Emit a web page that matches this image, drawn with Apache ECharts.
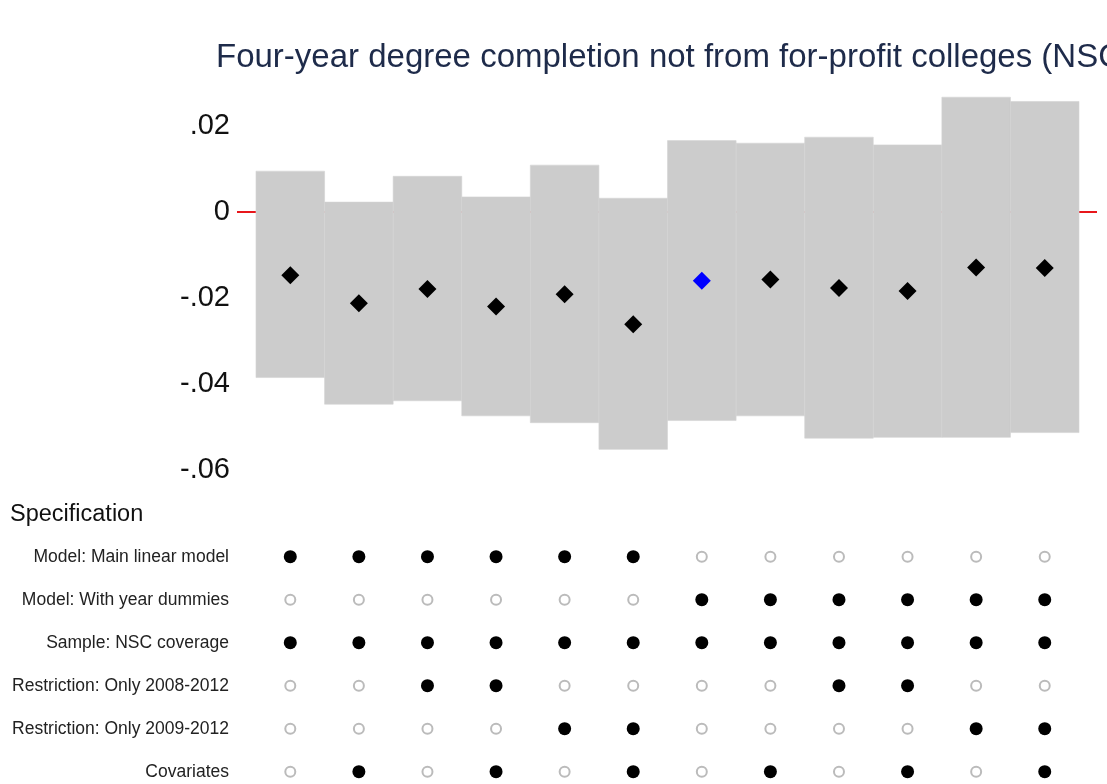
<!DOCTYPE html>
<html>
<head>
<meta charset="utf-8">
<script src="https://cdn.jsdelivr.net/npm/echarts@6/dist/echarts.min.js"></script>
<style>
  html, body { margin: 0; padding: 0; background: #fff; }
  #main { width: 1107px; height: 784px; }
</style>
</head>
<body>
<div id="main"></div>
<script>
// point estimates and confidence bands, one per specification
var estimates = [-0.0147, -0.0212, -0.0179, -0.0220, -0.0191, -0.0261, -0.0160, -0.0157, -0.0177, -0.0184, -0.0129, -0.0130];
var ciLow = [-0.0385, -0.0447, -0.0439, -0.0474, -0.0490, -0.0552, -0.0485, -0.0474, -0.0526, -0.0524, -0.0524, -0.0513];
var ciHigh = [0.0095, 0.0023, 0.0083, 0.0035, 0.0109, 0.0032, 0.0166, 0.0160, 0.0174, 0.0156, 0.0267, 0.0257];
var highlight = 6; // blue marker (main spec)

var yTicks = [-0.06, -0.04, -0.02, 0, 0.02];
var tickLabels = ['-.06', '-.04', '-.02', '0', '.02'];

var rowLabels = [
  'Model: Main linear model',
  'Model: With year dummies',
  'Sample: NSC coverage',
  'Restriction: Only 2008-2012',
  'Restriction: Only 2009-2012',
  'Covariates'
];
var specMain = [1, 1, 1, 1, 1, 1, 0, 0, 0, 0, 0, 0];
var specDummies = [0, 0, 0, 0, 0, 0, 1, 1, 1, 1, 1, 1];
var specNsc = [1, 1, 1, 1, 1, 1, 1, 1, 1, 1, 1, 1];
var spec0812 = [0, 0, 1, 1, 0, 0, 0, 0, 1, 1, 0, 0];
var spec0912 = [0, 0, 0, 0, 1, 1, 0, 0, 0, 0, 1, 1];
var specCov = [0, 1, 0, 1, 0, 1, 0, 1, 0, 1, 0, 1];
var specRows = [specMain, specDummies, specNsc, spec0812, spec0912, specCov];

var font = "'Liberation Sans', Arial, sans-serif";
var xMin = 0.223, xMax = 12.762;

var bandData = [];
var dotData = [];
for (var i = 0; i < estimates.length; i++) {
  bandData.push([i + 1, ciLow[i], ciHigh[i]]);
  dotData.push({
    value: [i + 1, estimates[i]],
    itemStyle: { color: i === highlight ? '#0000ff' : '#000000' }
  });
}
var onDots = [], offDots = [];
for (var r = 0; r < specRows.length; r++) {
  for (var j = 0; j < specRows[r].length; j++) {
    if (specRows[r][j]) onDots.push([j + 1, r]);
    else offDots.push([j + 1, r]);
  }
}

var chart = echarts.init(document.getElementById('main'));
chart.setOption({
  animation: false,
  title: [
    {
      text: 'Four-year degree completion not from for-profit colleges (NSC)',
      left: 216, top: 41, padding: 0,
      textStyle: { fontFamily: font, fontSize: 33, fontWeight: 'normal', color: '#1e2b4a' }
    },
    {
      text: 'Specification',
      left: 10, top: 503, padding: 0,
      textStyle: { fontFamily: font, fontSize: 23.5, fontWeight: 'normal', color: '#111' }
    }
  ],
  grid: [
    { left: 237, right: 10, top: 91.6, height: 378.4 },
    { left: 237, right: 10, top: 556.7, height: 215 }
  ],
  xAxis: [
    { type: 'value', gridIndex: 0, min: xMin, max: xMax, show: false },
    { type: 'value', gridIndex: 1, min: xMin, max: xMax, show: false }
  ],
  yAxis: [
    {
      type: 'value', gridIndex: 0, min: -0.06, max: 0.028, interval: 0.02,
      axisLine: { show: false }, axisTick: { show: false }, splitLine: { show: false },
      axisLabel: {
        margin: 7, fontFamily: font, fontSize: 29, color: '#111',
        formatter: function (v) {
          for (var k = 0; k < yTicks.length; k++) {
            if (Math.abs(v - yTicks[k]) < 1e-9) return tickLabels[k];
          }
          return '';
        }
      }
    },
    {
      type: 'value', gridIndex: 1, min: 0, max: 5, interval: 1, inverse: true,
      axisLine: { show: false }, axisTick: { show: false }, splitLine: { show: false },
      axisLabel: {
        margin: 8, fontFamily: font, fontSize: 17.5, color: '#222',
        formatter: function (v) { return rowLabels[Math.round(v)] || ''; }
      }
    }
  ],
  series: [
    {
      // red reference line at zero, sits behind the bands
      type: 'line', xAxisIndex: 0, yAxisIndex: 0, z: 1,
      symbol: 'none', silent: true,
      lineStyle: { color: '#e8161b', width: 2 },
      data: [[xMin, 0], [xMax, 0]]
    },
    {
      type: 'custom', xAxisIndex: 0, yAxisIndex: 0, z: 2,
      data: bandData,
      renderItem: function (params, api) {
        var x = api.value(0);
        var p0 = api.coord([x - 0.5, api.value(2)]);
        var p1 = api.coord([x + 0.5, api.value(1)]);
        return {
          type: 'rect',
          shape: { x: p0[0], y: p0[1], width: p1[0] - p0[0], height: p1[1] - p0[1] },
          style: { fill: '#cccccc', stroke: '#d3d3d3', lineWidth: 0.6 }
        };
      }
    },
    {
      type: 'scatter', xAxisIndex: 0, yAxisIndex: 0, z: 3,
      symbol: 'diamond', symbolSize: 18,
      itemStyle: { opacity: 1 },
      data: dotData
    },
    {
      type: 'scatter', xAxisIndex: 1, yAxisIndex: 1, clip: false,
      symbol: 'circle', symbolSize: 13,
      itemStyle: { color: '#000', opacity: 1 },
      data: onDots
    },
    {
      type: 'scatter', xAxisIndex: 1, yAxisIndex: 1, clip: false,
      symbol: 'circle', symbolSize: 10,
      itemStyle: { color: '#fff', borderColor: '#bbbbbb', borderWidth: 2, opacity: 1 },
      data: offDots
    }
  ]
});
</script>
</body>
</html>
